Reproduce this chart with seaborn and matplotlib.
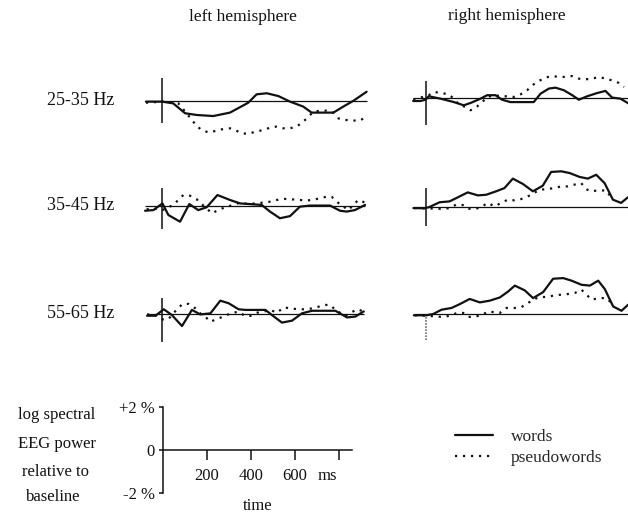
import matplotlib
matplotlib.use("Agg")
import matplotlib.pyplot as plt
import pandas as pd
import seaborn as sns
from matplotlib.lines import Line2D

sns.set_theme(style="ticks")
plt.rcParams["font.family"] = ["Liberation Serif", "DejaVu Serif"]

# ---------------------------------------------------------------------------
# Induced gamma-band EEG power (log, % change from baseline), time in ms
# ---------------------------------------------------------------------------
bands = ["25-35 Hz", "35-45 Hz", "55-65 Hz"]
hemispheres = ["left hemisphere", "right hemisphere"]
conditions = ["words", "pseudowords"]

# left hemisphere, 25-35 Hz
l25_words_t = [-73, 0, 51, 105, 158, 233, 309, 392, 430, 476, 529, 582, 642, 680, 779, 824, 870, 930]
l25_words_v = [-0.03, -0.03, -0.11, -0.57, -0.65, -0.70, -0.54, -0.08, 0.31, 0.36, 0.23, -0.03,
               -0.26, -0.54, -0.54, -0.26, 0.01, 0.43]
l25_pseudo_t = [-73, 2, 74, 112, 135, 158, 180, 211, 241, 271, 309, 332, 362, 393, 423, 461, 491,
                521, 551, 582, 612, 642, 658, 688, 718, 748, 779, 802, 833, 864, 901, 930]
l25_pseudo_v = [-0.08, -0.03, -0.11, -0.57, -0.88, -1.16, -1.35, -1.46, -1.40, -1.32, -1.27, -1.35,
                -1.50, -1.53, -1.43, -1.35, -1.24, -1.19, -1.27, -1.27, -1.19, -0.96, -0.81, -0.50,
                -0.45, -0.45, -0.54, -0.81, -0.88, -0.91, -0.91, -0.70]

# right hemisphere, 25-35 Hz
r25_words_t = [-56, -23, 0, 15, 68, 129, 174, 205, 250, 280, 318, 348, 386, 447, 492, 523, 561, 591,
               629, 667, 697, 735, 780, 818, 848, 886, 924]
r25_words_v = [-0.14, -0.14, -0.08, 0.08, -0.03, -0.19, -0.34, -0.23, -0.03, 0.13, 0.13, -0.08, -0.19,
               -0.19, -0.19, 0.20, 0.44, 0.48, 0.36, 0.13, -0.08, 0.08, 0.23, 0.33, 0.02, -0.03, -0.26]
r25_pseudo_t = [-56, 15, 38, 76, 106, 129, 152, 182, 205, 235, 258, 280, 318, 341, 371, 402, 432, 462,
                485, 515, 545, 576, 606, 636, 667, 697, 727, 758, 788, 818, 848, 879, 902]
r25_pseudo_v = [-0.08, 0.13, 0.28, 0.23, 0.16, -0.03, -0.31, -0.42, -0.57, -0.39, -0.19, 0.05, 0.13,
                0.08, 0.08, 0.05, 0.17, 0.36, 0.59, 0.79, 0.95, 1.02, 0.98, 0.98, 1.02, 0.90, 0.87,
                0.90, 0.98, 0.90, 0.82, 0.70, 0.51]

# left hemisphere, 35-45 Hz
l35_words_t = [-77, -39, 2, 29, 82, 124, 165, 203, 252, 309, 355, 453, 491, 536, 582, 627, 673, 764,
               809, 839, 877, 923]
l35_words_v = [-0.22, -0.19, 0.12, -0.42, -0.73, 0.09, -0.19, -0.06, 0.51, 0.28, 0.12, 0.05, -0.26,
               -0.57, -0.47, -0.03, 0.02, 0.02, -0.22, -0.26, -0.19, 0.05]
l35_pseudo_t = [-70, -47, 2, 52, 74, 97, 127, 158, 180, 203, 226, 256, 286, 324, 355, 392, 423, 461,
                491, 521, 559, 589, 627, 658, 688, 718, 748, 771, 794, 847, 892, 923]
l35_pseudo_v = [-0.16, -0.11, -0.19, 0.05, 0.28, 0.51, 0.48, 0.31, 0.09, -0.11, -0.34, -0.19, -0.06,
                0.05, 0.16, 0.09, 0.12, 0.16, 0.20, 0.28, 0.33, 0.31, 0.28, 0.26, 0.28, 0.37, 0.43,
                0.43, 0.20, -0.19, 0.28, 0.16]

# right hemisphere, 35-45 Hz
r35_words_t = [-55, -5, 18, 64, 109, 147, 192, 238, 276, 321, 359, 397, 443, 488, 533, 571, 617, 655,
               700, 738, 776, 814, 852, 889, 920]
r35_words_v = [-0.05, -0.06, 0.00, 0.22, 0.26, 0.45, 0.68, 0.54, 0.57, 0.73, 0.88, 1.32, 1.07, 0.73,
               0.99, 1.63, 1.66, 1.58, 1.40, 1.32, 1.50, 1.11, 0.34, 0.19, 0.45]
r35_pseudo_t = [-50, -5, 79, 109, 139, 170, 192, 227, 253, 283, 314, 344, 374, 404, 435, 465, 488, 518,
                548, 586, 617, 647, 677, 708, 730, 753, 783, 821, 852]
r35_pseudo_v = [-0.05, -0.06, -0.09, -0.05, 0.11, 0.09, -0.08, -0.09, 0.00, 0.19, 0.03, 0.19, 0.34,
                0.31, 0.37, 0.49, 0.62, 0.80, 0.83, 0.88, 0.96, 0.96, 1.04, 1.11, 0.83, 0.73, 0.77,
                0.77, 0.34]

# left hemisphere, 55-65 Hz
l55_words_t = [-68, -30, 8, 45, 91, 136, 174, 220, 265, 303, 348, 379, 470, 500, 545, 591, 636, 682,
               788, 841, 879, 917]
l55_words_v = [-0.08, -0.08, 0.22, -0.05, -0.56, 0.19, -0.02, 0.03, 0.62, 0.50, 0.22, 0.19, 0.19,
               -0.05, -0.40, -0.31, 0.03, 0.15, 0.15, -0.16, -0.12, 0.12]
l55_pseudo_t = [-68, -30, -4, 28, 68, 94, 121, 152, 174, 200, 220, 250, 280, 311, 348, 371, 401, 432,
                462, 492, 523, 553, 583, 621, 652, 682, 712, 742, 765, 788, 833, 886, 917]
l55_pseudo_v = [-0.02, -0.05, -0.25, -0.25, 0.22, 0.47, 0.47, 0.26, 0.03, -0.16, -0.36, -0.23, -0.12,
                0.03, 0.11, -0.05, -0.09, 0.06, 0.11, 0.19, 0.06, 0.31, 0.26, 0.22, 0.22, 0.26, 0.34,
                0.42, 0.42, 0.19, -0.09, 0.22, 0.12]

# right hemisphere, 55-65 Hz
r55_words_t = [-53, 4, 35, 73, 118, 156, 201, 247, 292, 338, 376, 406, 451, 489, 535, 580, 626, 664,
               709, 747, 785, 815, 853, 891, 921]
r55_words_v = [-0.06, -0.06, 0.00, 0.20, 0.28, 0.46, 0.70, 0.54, 0.62, 0.77, 1.05, 1.32, 1.10, 0.74,
               1.02, 1.64, 1.67, 1.55, 1.36, 1.32, 1.55, 1.16, 0.35, 0.15, 0.43]
r55_pseudo_t = [-49, 4, 80, 110, 144, 171, 194, 229, 254, 285, 338, 368, 406, 436, 466, 489, 519, 550,
                588, 618, 648, 679, 709, 732, 754, 792, 823, 853]
r55_pseudo_v = [-0.06, -0.08, -0.14, -0.08, 0.05, 0.05, -0.14, -0.11, -0.06, 0.12, 0.05, 0.28, 0.28,
                0.32, 0.51, 0.67, 0.79, 0.79, 0.87, 0.90, 0.93, 0.98, 1.13, 0.90, 0.67, 0.74, 0.74,
                0.43]

# calibration bar
scale_pct_ticks = [-2, 0, 2]
scale_pct_labels = ["-2 %", "0", "+2 %"]
scale_ms_ticks = [200, 400, 600, 800]
scale_ms_labels = ["200", "400", "600", ""]
scale_caption = ["log spectral", "EEG power", "relative to", "baseline"]

# ---------------------------------------------------------------------------
# layout (pixel geometry of a 628 x 516 canvas)
# ---------------------------------------------------------------------------
W, H = 628, 516
INK = "#111111"
PX_MS = 0.22          # pixels per millisecond
PX_PCT = 21.5         # pixels per percent
XLIM = (-100, 960)
YLIM = (-1.6, 2.0)
DASHES = {"words": "", "pseudowords": (1, 2.6)}

fig = plt.figure(figsize=(W / 100, H / 100), dpi=100)
fig.patch.set_facecolor("white")


def panel_axes(zero_x, base_y):
    left = zero_x + XLIM[0] * PX_MS
    width = (XLIM[1] - XLIM[0]) * PX_MS
    top = base_y - YLIM[1] * PX_PCT
    height = (YLIM[1] - YLIM[0]) * PX_PCT
    ax = fig.add_axes([left / W, 1 - (top + height) / H, width / W, height / H])
    ax.set_xlim(*XLIM)
    ax.set_ylim(*YLIM)
    ax.axis("off")
    return ax


def draw_panel(ax, wt, wv, pt, pv, onset_span, to_edge=False, onset_style="-", onset_color=INK):
    df = pd.concat([
        pd.DataFrame({"time": wt, "power": wv, "condition": "words"}),
        pd.DataFrame({"time": pt, "power": pv, "condition": "pseudowords"}),
    ], ignore_index=True)
    t_start = df["time"].min()
    t_end = XLIM[1] if to_edge else df["time"].max()
    ax.hlines(0, t_start, t_end, color=INK, lw=0.9)
    ax.vlines(0, onset_span[0], onset_span[1], color=onset_color, lw=1.1, linestyles=onset_style)
    sns.lineplot(data=df, x="time", y="power", style="condition", style_order=conditions,
                 dashes=DASHES, color=INK, linewidth=1.6, estimator=None, legend=False, ax=ax)
    ax.set_xlim(*XLIM)
    ax.set_ylim(*YLIM)
    ax.axis("off")


left_zero, right_zero = 162, 425.5
left_base = [101, 206, 314]
right_base = [98, 207, 314]

panels = [
    (l25_words_t, l25_words_v, l25_pseudo_t, l25_pseudo_v, r25_words_t, r25_words_v, r25_pseudo_t, r25_pseudo_v),
    (l35_words_t, l35_words_v, l35_pseudo_t, l35_pseudo_v, r35_words_t, r35_words_v, r35_pseudo_t, r35_pseudo_v),
    (l55_words_t, l55_words_v, l55_pseudo_t, l55_pseudo_v, r55_words_t, r55_words_v, r55_pseudo_t, r55_pseudo_v),
]
left_onsets = [(-1.0, 1.05), (-1.07, 0.84), (-1.3, 0.74)]
right_onsets = [(-1.27, 0.79), (-0.9, 0.9), (-1.2, 0.0)]

for i, p in enumerate(panels):
    axl = panel_axes(left_zero, left_base[i])
    draw_panel(axl, p[0], p[1], p[2], p[3], left_onsets[i])
    axr = panel_axes(right_zero, right_base[i])
    if i == 2:
        draw_panel(axr, p[4], p[5], p[6], p[7], right_onsets[i], to_edge=True,
                   onset_style=(0, (1, 1)), onset_color="#555555")
    else:
        draw_panel(axr, p[4], p[5], p[6], p[7], right_onsets[i], to_edge=True)
    fig.text(81 / W, 1 - (left_base[i] - 0.5) / H, bands[i], ha="center", va="center",
             fontsize=13, color=INK)

fig.text(243 / W, 1 - 17 / H, hemispheres[0], ha="center", va="center", fontsize=12.5, color=INK)
fig.text(507 / W, 1 - 16 / H, hemispheres[1], ha="center", va="center", fontsize=12.5, color=INK)

# ---------------------------------------------------------------------------
# calibration bar
# ---------------------------------------------------------------------------
SC_PCT = 21.7
sx0, sy0 = 163, 450
sax = fig.add_axes([sx0 / W, 1 - (sy0 + 2 * SC_PCT) / H, 860 * PX_MS / W, 4 * SC_PCT / H])
sax.set_facecolor("none")
sax.set_xlim(0, 860)
sax.set_ylim(-2, 2)
sns.despine(ax=sax)
sax.spines["bottom"].set_position(("data", 0))
for s in ("left", "bottom"):
    sax.spines[s].set_color(INK)
    sax.spines[s].set_linewidth(1.1)
sax.set_xticks(scale_ms_ticks, labels=scale_ms_labels)
sax.set_yticks(scale_pct_ticks, labels=scale_pct_labels)
sax.tick_params(axis="x", direction="out", length=7.5, width=1.1, pad=5.5, labelsize=12,
                colors=INK, bottom=True)
sax.tick_params(axis="y", direction="out", length=3, width=1.1, pad=3, labelsize=12,
                colors=INK, left=True)
sax.annotate("ms", xy=(600, 0), xycoords="data", xytext=(16.5, -18.5),
             textcoords="offset points", ha="left", va="center", fontsize=12, color=INK)
sax.set_xlabel("time", fontsize=12, color=INK, labelpad=10)

caption_x = [57, 57, 55, 53]
caption_y = [415, 444, 472, 497]
for txt, cx, cy in zip(scale_caption, caption_x, caption_y):
    fig.text(cx / W, 1 - cy / H, txt, ha="center", va="center", fontsize=12, color=INK)

# ---------------------------------------------------------------------------
# legend
# ---------------------------------------------------------------------------
handles = [
    Line2D([], [], color=INK, lw=1.6, linestyle="-"),
    Line2D([], [], color=INK, lw=1.6, linestyle=(0, (1, 2.6))),
]
fig.legend(handles, conditions, loc="upper left", bbox_to_anchor=(455 / W, 1 - 429 / H),
           frameon=False, fontsize=12.5, handlelength=2.2, handletextpad=1.0,
           labelspacing=0.25, borderpad=0, borderaxespad=0)

fig.savefig("out.png", dpi=100, facecolor="white")
